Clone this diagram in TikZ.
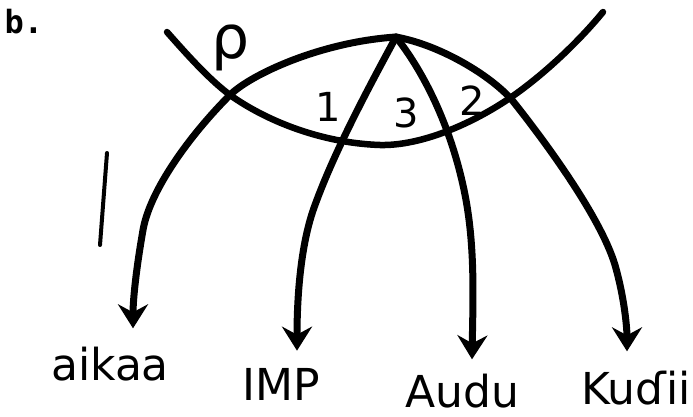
\documentclass[tikz,border=0pt]{standalone}
\usepackage{fontspec}
\newfontfamily\handfont{DejaVu Sans}
\newfontfamily\markfont{DejaVu Sans Mono}
\usetikzlibrary{arrows.meta}

\begin{document}
\begin{tikzpicture}[x=1pt,y=-1pt,line width=6.5pt,line cap=round,
  >={Stealth[length=24pt,width=30pt,inset=8pt]},
  word/.style={font=\handfont\fontsize{44}{50}\selectfont,inner sep=0pt,anchor=base},
  numlabel/.style={font=\handfont\fontsize{40}{46}\selectfont,inner sep=0pt},
  branch/.style={->,line width=7pt}]
\useasboundingbox (0,0) rectangle (693,417);
% panel letter
\node[font=\markfont\bfseries\fontsize{32}{36}\selectfont,inner sep=0pt] (panel) at (24,22) {b.};
% ---------- top and leaves ----------
\coordinate (apex) at (396,37);
\node[word] (aikaa) at (110,380) {aikaa};
\node[word] (imp) at (281,400) {IMP};
\node[word] (audu) at (462,407) {Audu};
\node[word] (kudii) at (636,404) {Kuɗii};
% ---------- crossing curve ----------
\draw (167,32) .. controls (190,58) and (210,80) .. (230,95)
  .. controls (265,120) and (320,143) .. (380,145)
  .. controls (420,146) and (470,125) .. (510,98)
  .. controls (545,74) and (580,40) .. (603,12);
% ---------- branches ----------
\draw[branch] (apex) .. controls (320,42) and (250,75) .. (230,95)
  .. controls (190,135) and (150,190) .. (143,230)
  .. controls (136,270) and (133,300) .. ([xshift=23pt,yshift=15pt]aikaa.north);
\draw[branch] (apex) .. controls (370,85) and (335,150) .. (315,205)
  .. controls (300,245) and (297,300) .. ([xshift=16pt,yshift=14pt]imp.north);
\draw[branch] (apex) .. controls (430,80) and (455,140) .. (466,200)
  .. controls (475,250) and (473,300) .. ([xshift=10pt,yshift=11pt]audu.north);
\draw[branch] (apex) .. controls (440,45) and (490,75) .. (512,100)
  .. controls (540,135) and (600,215) .. (615,265)
  .. controls (625,300) and (627,330) .. ([xshift=-9pt,yshift=16pt]kudii.north);
% ---------- labels ----------
\node[numlabel,font=\handfont\fontsize{60}{66}\selectfont] (rho) at (231,48) {ρ};
\node[numlabel] (one) at (328,107) {1};
\node[numlabel] (three) at (406,113) {3};
\node[numlabel] (two) at (472,101) {2};
% stray stroke
\draw[line width=4pt] (107,153) -- (100,245);
\end{tikzpicture}
\end{document}
